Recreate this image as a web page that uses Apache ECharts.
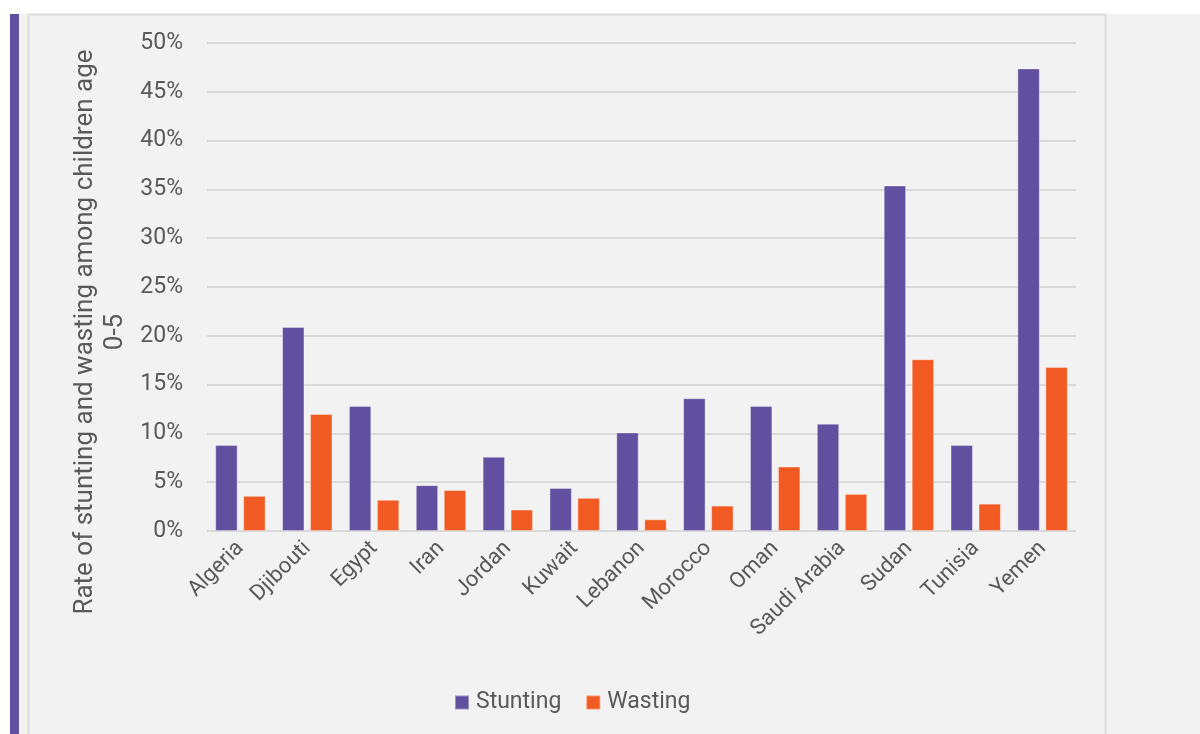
<!DOCTYPE html>
<html>
<head>
<meta charset="utf-8">
<script src="https://cdn.jsdelivr.net/npm/echarts@6/dist/echarts.min.js"></script>
<style>
  html, body { margin: 0; padding: 0; background: #ffffff; }
  #chart { width: 1200px; height: 734px; }
</style>
</head>
<body>
<div id="chart"></div>
<script>
// Child malnutrition rates (%) by country, children aged 0-5
const countries = ['Algeria', 'Djibouti', 'Egypt', 'Iran', 'Jordan', 'Kuwait', 'Lebanon',
  'Morocco', 'Oman', 'Saudi Arabia', 'Sudan', 'Tunisia', 'Yemen'];
const stunting = [8.8, 20.9, 12.8, 4.7, 7.6, 4.4, 10.1, 13.6, 12.8, 11.0, 35.4, 8.8, 47.4];
const wasting  = [3.6, 12.0, 3.2, 4.2, 2.2, 3.4, 1.2, 2.6, 6.6, 3.8, 17.6, 2.8, 16.8];
const yTicks = [0, 5, 10, 15, 20, 25, 30, 35, 40, 45, 50];

const FONT = 'Roboto';
const TEXT = '#595959';
const PURPLE = '#6150a0';
const ORANGE = '#f15a22';

const chart = echarts.init(document.getElementById('chart'));
chart.setOption({
  animation: false,
  backgroundColor: 'transparent',
  textStyle: { fontFamily: FONT },
  graphic: [
    // panel background and accent strip
    { type: 'rect', z: -10, shape: { x: 19, y: 14, width: 1181, height: 720 }, style: { fill: '#f2f2f2' } },
    { type: 'rect', z: -9, shape: { x: 10, y: 14, width: 9, height: 720 }, style: { fill: PURPLE } },
    { type: 'polyline', z: -8, shape: { points: [[28.5, 740], [28.5, 14.5], [1105.5, 14.5], [1105.5, 740]] },
      style: { stroke: '#dcdcdc', lineWidth: 2, fill: null } },
    // axis title, two lines, reading bottom to top
    { type: 'text', z: 5,
      style: {
        text: 'Rate of stunting and wasting among children age\n0-5',
        fontFamily: FONT, fontSize: 26, fill: TEXT, align: 'center', verticalAlign: 'middle', lineHeight: 30
      },
      rotation: Math.PI / 2, x: 100, y: 332
    }
  ],
  legend: {
    data: ['Stunting', 'Wasting'],
    bottom: 15,
    left: 449,
    itemWidth: 14,
    itemHeight: 14,
    itemGap: 24,
    icon: 'rect',
    textStyle: { fontFamily: FONT, fontSize: 23, color: TEXT, padding: [0, 0, 0, 2] }
  },
  grid: { left: 207, right: 124, top: 43, bottom: 203, containLabel: false },
  xAxis: {
    type: 'category',
    data: countries,
    axisLine: { show: false },
    axisTick: { show: false },
    axisLabel: { rotate: 45, fontFamily: FONT, fontSize: 22, color: TEXT, margin: 14, interval: 0 }
  },
  yAxis: {
    type: 'value',
    min: yTicks[0],
    max: yTicks[yTicks.length - 1],
    interval: 5,
    axisLine: { show: false },
    axisTick: { show: false },
    axisLabel: { formatter: v => v + '%', fontFamily: FONT, fontSize: 23, color: TEXT, margin: 24 },
    splitLine: { lineStyle: { color: '#d9d9d9', width: 2 } }
  },
  series: [
    { name: 'Stunting', type: 'bar', data: stunting, barWidth: '33.5%', barGap: '25%',
      itemStyle: { color: PURPLE, borderColor: 'rgba(255,255,255,0.35)', borderWidth: 1 } },
    { name: 'Wasting', type: 'bar', data: wasting, barWidth: '33.5%',
      itemStyle: { color: ORANGE, borderColor: 'rgba(255,255,255,0.35)', borderWidth: 1 } }
  ]
});
</script>
</body>
</html>
